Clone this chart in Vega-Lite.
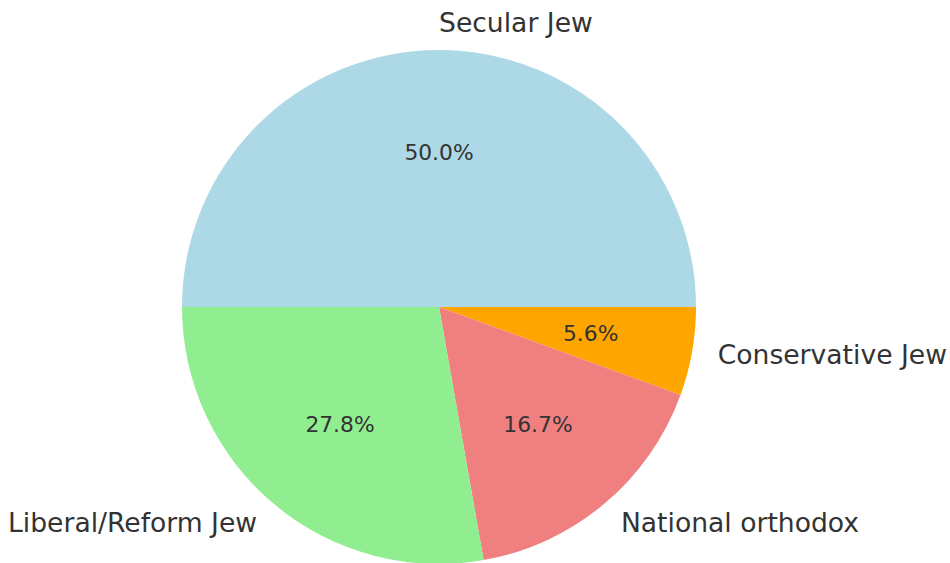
{
  "$schema": "https://vega.github.io/schema/vega-lite/v6.json",
  "width": 878,
  "height": 512,
  "autosize": "none",
  "padding": {"left": 0, "top": 51, "right": 72, "bottom": 0},
  "background": "white",
  "config": {"view": {"stroke": null}},
  "data": {
    "values": [
      {"category": "Secular Jew", "count": 9, "share": 0.5, "ord": 1},
      {"category": "Conservative Jew", "count": 1, "share": 0.056, "ord": 2},
      {"category": "National orthodox", "count": 3, "share": 0.167, "ord": 3},
      {"category": "Liberal/Reform Jew", "count": 5, "share": 0.278, "ord": 4}
    ]
  },
  "encoding": {
    "theta": {"field": "count", "type": "quantitative", "stack": true, "scale": {"range": [-1.5707963, 4.712389]}},
    "order": {"field": "ord", "type": "quantitative"}
  },
  "layer": [
    {
      "mark": {"type": "arc", "outerRadius": 257},
      "encoding": {
        "color": {
          "field": "category",
          "type": "nominal",
          "scale": {
            "domain": ["Secular Jew", "Conservative Jew", "National orthodox", "Liberal/Reform Jew"],
            "range": ["#ADD8E6", "#FFA500", "#F08080", "#90EE90"]
          },
          "legend": null
        }
      }
    },
    {
      "mark": {"type": "text", "radius": 154, "fontSize": 21.8, "font": "DejaVu Sans", "color": "#333333", "align": "center", "baseline": "middle"},
      "encoding": {"text": {"field": "share", "type": "quantitative", "format": ".1%"}}
    },
    {
      "mark": {"type": "text", "radius": 283, "fontSize": 26.6, "font": "DejaVu Sans", "color": "#333333", "align": "left", "baseline": "middle"},
      "encoding": {"text": {"condition": {"test": "datum.category === 'Liberal/Reform Jew'", "value": ""}, "field": "category", "type": "nominal"}}
    },
    {
      "mark": {"type": "text", "radius": 283, "fontSize": 26.6, "font": "DejaVu Sans", "color": "#333333", "align": "right", "baseline": "middle"},
      "encoding": {"text": {"condition": {"test": "datum.category !== 'Liberal/Reform Jew'", "value": ""}, "field": "category", "type": "nominal"}}
    }
  ]
}
